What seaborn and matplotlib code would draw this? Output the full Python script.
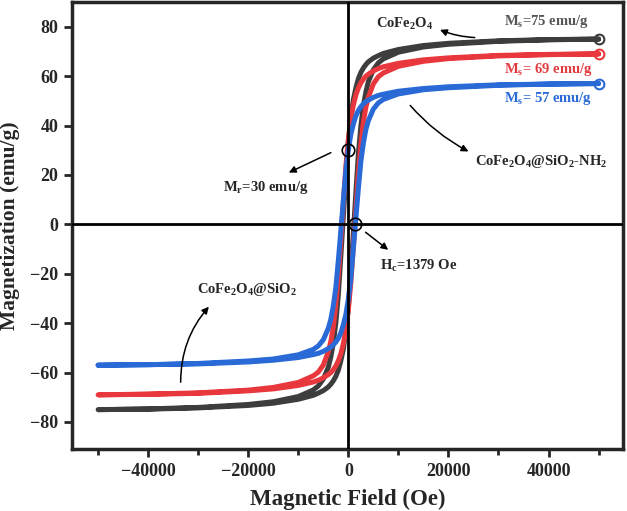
import numpy as np
import pandas as pd
import matplotlib
matplotlib.use("Agg")
import matplotlib.pyplot as plt
import seaborn as sns

# --- datos (rama descendente, de +H a -H) ---
campo_oe = [50000, 40000, 30000, 20000, 15000, 10000, 7000, 6000, 5000, 4000, 3500, 3000, 2500,
            2000, 1500, 1000, 500, 0, -500, -1000, -1500, -2000, -2500, -3000, -3500, -4000,
            -5000, -6000, -7000, -10000, -15000, -20000, -30000, -40000, -50000]

m_cofe2o4 = [75.0, 74.8, 74.3, 73.3, 72.4, 70.8, 69.2, 68.3, 67.3, 65.8, 64.7, 63.3, 61.5,
             59.0, 55.2, 50.5, 43.3, 33.6, 19.1, 3.3, -12.8, -28.5, -39.8, -48.0, -53.6, -57.8,
             -62.6, -65.4, -67.0, -69.7, -71.8, -72.9, -74.1, -74.7, -75.0]
m_sio2 = [69.0, 68.8, 68.4, 67.4, 66.6, 65.2, 63.8, 63.1, 62.1, 60.8, 60.0, 58.8, 57.3,
          55.2, 52.4, 48.3, 42.8, 34.5, 23.5, 9.0, -6.2, -20.7, -32.4, -41.4, -47.3, -51.5,
          -56.9, -59.8, -61.3, -64.0, -66.0, -67.1, -68.2, -68.7, -69.0]
m_nh2 = [57.0, 56.8, 56.5, 55.7, 55.0, 53.9, 52.7, 52.2, 51.4, 50.3, 49.7, 48.8, 47.6,
         46.1, 43.9, 40.6, 36.5, 30.2, 21.7, 9.7, -2.5, -14.5, -25.5, -32.9, -38.4, -42.0,
         -46.7, -49.2, -50.6, -52.8, -54.5, -55.3, -56.3, -56.8, -57.0]

muestras = ["CoFe2O4", "CoFe2O4@SiO2", "CoFe2O4@SiO2-NH2"]
colores = ["#3d3d3d", "#e8383d", "#2a6ad6"]

# Ciclo completo: rama descendente + rama ascendente (simetría M(-H) = -M(H))
filas = []
for nombre, m in zip(muestras, [m_cofe2o4, m_sio2, m_nh2]):
    h = np.array(campo_oe, dtype=float)
    mm = np.array(m)
    hh = np.concatenate([h, -h])
    ml = np.concatenate([mm, -mm])
    filas.append(pd.DataFrame({"H": hh, "M": ml, "muestra": nombre}))
df = pd.concat(filas, ignore_index=True)

# --- estilo ---
sns.set_style("ticks")
plt.rcParams['font.family'] = ['Liberation Serif', 'DejaVu Serif']
plt.rcParams['font.weight'] = 'bold'
plt.rcParams['mathtext.fontset'] = 'custom'
plt.rcParams['mathtext.rm'] = 'Liberation Serif:bold'
plt.rcParams['mathtext.it'] = 'Liberation Serif:bold'
plt.rcParams['mathtext.bf'] = 'Liberation Serif:bold'

fig = plt.figure(figsize=(6.27, 5.11), dpi=100)
ax = fig.add_axes([0.115, 0.121, 0.878, 0.875])

sns.lineplot(data=df, x="H", y="M", hue="muestra", hue_order=muestras,
             palette=colores, sort=False, estimator=None, lw=3.6, legend=False, ax=ax)

# círculos al final de cada curva (Ms)
for m, c in zip([m_cofe2o4, m_sio2, m_nh2], colores):
    ax.plot(campo_oe[0], m[0], 'o', mfc='none', mec=c, ms=7, mew=1.5, zorder=5)

ax.axhline(0, color='black', lw=2, zorder=4)
ax.axvline(0, color='black', lw=2, zorder=4)

ax.set_xlim(-55200, 54800)
ax.set_ylim(-91, 90)
ax.set_xticks([-40000, -20000, 0, 20000, 40000])
ax.set_xticks([-50000, -30000, -10000, 10000, 30000, 50000], minor=True)
ax.set_yticks([-80, -60, -40, -20, 0, 20, 40, 60, 80])
ax.set_yticklabels(["\u221280", "\u221260", "\u221240", "\u221220", "0", "20", "40", "60", "80"])
ax.set_xticklabels(["\u221240000", "\u221220000", "0", "20000", "40000"])
ax.tick_params(axis='both', which='major', direction='out', length=6, width=2, labelsize=13, pad=4)
ax.tick_params(axis='x', which='minor', direction='out', length=4, width=2)
for s in ax.spines.values():
    s.set_linewidth(2.5)
    s.set_visible(True)

ax.set_xlabel("Magnetic Field (Oe)", fontsize=16.5, fontweight='bold', labelpad=6)
ax.set_ylabel("Magnetization (emu/g)", fontsize=15.5, fontweight='bold', labelpad=7)

# marcas de Mr y Hc
ax.plot(0, 30, 'o', mfc='none', mec='black', ms=9, mew=1.2, zorder=6)
ax.plot(1379, 0, 'o', mfc='none', mec='black', ms=9, mew=1.2, zorder=6)

# --- anotaciones ---
fs = 10.5
flecha = dict(arrowstyle='-|>', color='black', lw=1.1, mutation_scale=10)

ax.text(11200, 81, "CoFe$_2$O$_4$", fontsize=fs, ha='center', va='center')
ax.annotate("", xy=(17800, 79.2), xytext=(25800, 75.6),
            arrowprops=dict(flecha, connectionstyle="arc3,rad=-0.1"))
ax.text(39500, 82, "M$_\\mathrm{s}$=75 emu/g", fontsize=fs, ha='center', va='center', color='#555555')
ax.text(40000, 62.5, "M$_\\mathrm{s}$= 69 emu/g", fontsize=fs, ha='center', va='center', color='#e03c40')
ax.text(40000, 51, "M$_\\mathrm{s}$= 57 emu/g", fontsize=fs, ha='center', va='center', color='#2a6ad6')

ax.text(38600, 25.5, "CoFe$_2$O$_4$@SiO$_2$-NH$_2$", fontsize=fs, ha='center', va='center')
ax.annotate("", xy=(24500, 29), xytext=(12000, 49),
            arrowprops=dict(flecha, connectionstyle="arc3,rad=0.1"))

ax.text(-16500, 15, "M$_\\mathrm{r}$=30 emu/g", fontsize=fs, ha='center', va='center')
ax.annotate("", xy=(-12400, 20.5), xytext=(-3000, 29.5), arrowprops=flecha)

ax.text(14000, -17, "H$_\\mathrm{c}$=1379 Oe", fontsize=fs, ha='center', va='center')
ax.annotate("", xy=(8400, -11), xytext=(3000, -2.5), arrowprops=flecha)

ax.text(-20200, -26.5, "CoFe$_2$O$_4$@SiO$_2$", fontsize=fs, ha='center', va='center')
ax.annotate("", xy=(-27500, -32.5), xytext=(-33500, -65),
            arrowprops=dict(flecha, connectionstyle="arc3,rad=-0.2"))

fig.savefig("out.png", dpi=100)
